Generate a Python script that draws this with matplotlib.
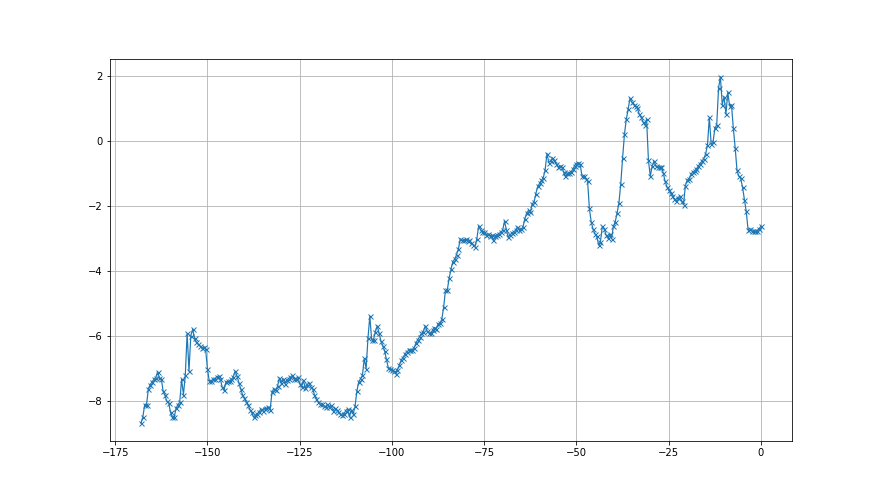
#!/usr/bin/env python3
# plot.py

import matplotlib
matplotlib.use("Agg")
import matplotlib.pyplot as plt
import numpy as np

# values, step 0.5 from -168 to 0
seg_168_148 = [-8.68, -8.49, -8.11, -8.11, -7.62, -7.49, -7.41, -7.33, -7.28, -7.10,
               -7.29, -7.31, -7.70, -7.82, -8.01, -8.05, -8.34, -8.49, -8.49, -8.22,
               -8.11, -8.03, -7.33, -7.80, -7.21, -5.92, -7.08, -5.99, -5.79, -6.07,
               -6.18, -6.25, -6.30, -6.38, -6.33, -6.40, -7.00, -7.39, -7.39, -7.33]
seg_148_130 = [-7.31, -7.26, -7.23, -7.33, -7.57, -7.67, -7.41, -7.39, -7.39, -7.33,
               -7.26, -7.08, -7.23, -7.43, -7.62, -7.80, -7.91, -8.03, -8.13, -8.26,
               -8.35, -8.49, -8.44, -8.39, -8.33, -8.24, -8.29, -8.24, -8.22, -8.18,
               -8.26, -7.72, -7.62, -7.67, -7.54, -7.29]
seg_130_110 = [-7.45, -7.31, -7.46, -7.36, -7.31, -7.26, -7.21, -7.31, -7.31, -7.26,
               -7.46, -7.57, -7.36, -7.60, -7.50, -7.43, -7.57, -7.62, -7.80, -7.93,
               -8.03, -8.10, -8.08, -8.15, -8.19, -8.10, -8.19, -8.13, -8.29, -8.22,
               -8.27, -8.34, -8.39, -8.44, -8.39, -8.29, -8.24, -8.49, -8.27, -8.39]
seg_110_90 = [-8.16, -7.69, -7.41, -7.31, -7.21, -6.69, -7.00, -6.07, -5.39, -6.11,
              -6.11, -5.87, -5.69, -5.90, -6.15, -6.30, -6.45, -6.72, -6.97, -7.00,
              -7.03, -7.07, -7.16, -7.03, -6.90, -6.74, -6.66, -6.56, -6.49, -6.44,
              -6.42, -6.44, -6.38, -6.21, -6.11, -6.02, -5.92, -5.87, -5.69, -5.84]
seg_90_70 = [-5.90, -5.92, -5.82, -5.74, -5.77, -5.63, -5.61, -5.49, -5.12, -4.60,
             -4.58, -4.22, -3.95, -3.71, -3.64, -3.50, -3.33, -3.02, -3.06, -3.06,
             -3.02, -3.09, -3.06, -3.14, -3.19, -3.25, -3.02, -2.61, -2.73, -2.81,
             -2.81, -2.89, -2.85, -2.92, -2.89, -3.06, -2.92, -2.89, -2.85, -2.81]
seg_70_50 = [-2.75, -2.47, -2.73, -2.96, -2.89, -2.83, -2.80, -2.75, -2.65, -2.73,
             -2.72, -2.65, -2.40, -2.22, -2.14, -2.20, -1.93, -1.89, -1.62, -1.40,
             -1.31, -1.21, -1.14, -0.90, -0.39, -0.67, -0.62, -0.52, -0.60, -0.70,
             -0.80, -0.78, -0.80, -0.96, -1.09, -1.00, -1.00, -0.95, -0.88, -0.76]
seg_50_30 = [-0.70, -0.67, -0.72, -1.09, -1.09, -1.16, -1.22, -2.08, -2.50, -2.72,
             -2.86, -2.94, -3.19, -3.10, -2.63, -2.70, -2.89, -2.99, -2.86, -3.01,
             -2.63, -2.49, -2.22, -1.91, -1.32, -0.52, 0.20, 0.66, 0.97, 1.31,
             1.18, 1.11, 1.08, 1.00, 0.82, 0.73, 0.59, 0.49, 0.66, -0.60]
seg_30_15 = [-1.09, -0.78, -0.62, -0.78, -0.80, -0.80, -0.80, -0.98, -1.24, -1.41,
             -1.52, -1.60, -1.70, -1.79, -1.86, -1.75, -1.70, -1.86, -1.96, -1.39,
             -1.21, -1.17, -1.03, -0.96, -0.93, -0.86, -0.78, -0.70, -0.62, -0.55]
seg_15_0 = [-0.40, -0.13, 0.72, -0.11, -0.05, 0.39, 0.49, 1.62, 1.97, 1.11,
            1.35, 0.82, 1.49, 1.07, 1.11, 0.39, -0.21, -0.91, -1.09, -1.15,
            -1.43, -1.81, -2.17, -2.73, -2.70, -2.78, -2.76, -2.78, -2.78, -2.70,
            -2.62]

x_start = -168
x_step = 0.5


def plot(ax):
    y = np.array(seg_168_148 + seg_148_130 + seg_130_110 + seg_110_90 + seg_90_70
                 + seg_70_50 + seg_50_30 + seg_30_15 + seg_15_0)
    x = x_start + x_step * np.arange(len(y))

    ax.plot(x, y, color="C0", marker="x", markersize=5, linewidth=1.2)
    ax.grid()


def main():
    # the reference looks like a 72 dpi render
    fig = plt.figure(figsize=(880 / 72, 495 / 72), dpi=72)
    ax = fig.add_subplot(1, 1, 1)
    plot(ax)
    fig.savefig("out.png", dpi=72)


if __name__ == "__main__":
    main()
